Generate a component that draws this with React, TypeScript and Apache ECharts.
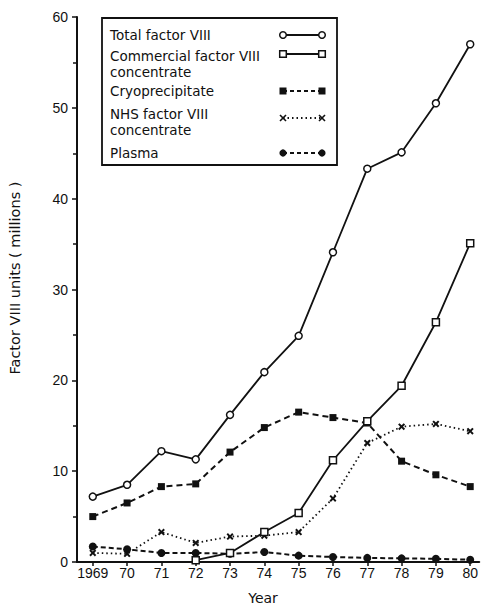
import React, { useEffect, useRef } from "react";
import * as echarts from "echarts";

const years = [1969, 1970, 1971, 1972, 1973, 1974, 1975, 1976, 1977, 1978, 1979, 1980];
const totalFactor = [7.2, 8.5, 12.2, 11.3, 16.2, 20.9, 24.9, 34.1, 43.3, 45.1, 50.5, 57.0];
const commercial = [null, null, null, 0.2, 1.0, 3.3, 5.4, 11.2, 15.5, 19.4, 26.4, 35.1];
const cryo = [5.0, 6.5, 8.3, 8.6, 12.1, 14.8, 16.5, 15.9, 15.3, 11.1, 9.6, 8.3];
const nhs = [1.0, 0.9, 3.3, 2.1, 2.8, 2.9, 3.3, 7.0, 13.1, 14.9, 15.2, 14.4];
const plasma = [1.7, 1.4, 1.0, 1.0, 0.9, 1.1, 0.7, 0.55, 0.45, 0.4, 0.35, 0.25];
const yTicks = [0, 10, 20, 30, 40, 50, 60];

const FONT = "Liberation Sans";
const TFONT = "DejaVu Sans";
const INK = "#111";
const XPATH = "path://M0,2L2,0L5,3L8,0L10,2L7,5L10,8L8,10L5,7L2,10L0,8L3,5Z";

function pairs(vals: (number | null)[]) {
  return years.map((y, i) => [y, vals[i]]).filter((p) => p[1] !== null);
}

export default function App() {
  const ref = useRef<HTMLDivElement>(null);
  useEffect(() => {
    if (!ref.current) return;
    const chart = echarts.init(ref.current, undefined, { renderer: "svg" });
    const lx1 = 283, lx2 = 322;
    const legendLine = (y: number, dash: any, w = 1.8) => ({
      type: "line",
      shape: { x1: lx1, y1: y, x2: lx2, y2: y },
      style: { stroke: INK, lineWidth: w, lineDash: dash },
    });
    const txt = (x: number, y: number, t: string) => ({
      type: "text",
      x,
      y,
      style: {
        text: t,
        font: `13.5px '${TFONT}'`,
        fill: INK,
        verticalAlign: "middle",
        lineHeight: 16,
      },
    });
    const openCircle = (x: number, y: number) => ({
      type: "circle",
      shape: { cx: x, cy: y, r: 3.3 },
      style: { fill: "#fff", stroke: INK, lineWidth: 1.5 },
    });
    const openSquare = (x: number, y: number) => ({
      type: "rect",
      shape: { x: x - 3.3, y: y - 3.3, width: 6.6, height: 6.6 },
      style: { fill: "#fff", stroke: INK, lineWidth: 1.5 },
    });
    const fillSquare = (x: number, y: number) => ({
      type: "rect",
      shape: { x: x - 3.5, y: y - 3.5, width: 7, height: 7 },
      style: { fill: INK },
    });
    const fillCircle = (x: number, y: number) => ({
      type: "circle",
      shape: { cx: x, cy: y, r: 3.6 },
      style: { fill: INK },
    });
    const crossA = (x: number, y: number) => ({
      type: "line",
      shape: { x1: x - 3, y1: y - 3, x2: x + 3, y2: y + 3 },
      style: { stroke: INK, lineWidth: 1.6 },
    });
    const crossB = (x: number, y: number) => ({
      type: "line",
      shape: { x1: x + 3, y1: y - 3, x2: x - 3, y2: y + 3 },
      style: { stroke: INK, lineWidth: 1.6 },
    });

    chart.setOption({
      animation: false,
      backgroundColor: "#fff",
      textStyle: { fontFamily: FONT, color: INK },
      grid: { left: 77, right: 0, top: 17, bottom: 44, containLabel: false },
      xAxis: {
        type: "value",
        min: 1968.54,
        max: 1980.26,
        splitLine: { show: false },
        axisLine: { show: true, lineStyle: { color: INK, width: 2.2 } },
        axisTick: { show: true, customValues: years, length: 4, lineStyle: { color: INK, width: 1.5 } },
        axisLabel: {
          customValues: years,
          margin: 4,
          fontSize: 14,
          fontFamily: FONT,
          color: INK,
          formatter: (v: number) => (v === 1969 ? "1969" : String(v).slice(2)),
        },
      },
      yAxis: {
        type: "value",
        min: 0,
        max: 60,
        interval: 10,
        splitLine: { show: false },
        axisLine: { show: true, lineStyle: { color: INK, width: 2 } },
        axisTick: { show: true, length: 5, lineStyle: { color: INK, width: 1.5 } },
        minorTick: { show: true, splitNumber: 2, length: 4, lineStyle: { color: INK, width: 1.5 } },
        axisLabel: {
          margin: 9,
          fontSize: 14,
          fontFamily: FONT,
          color: INK,
          customValues: yTicks,
        },
      },
      series: [
        {
          name: "Total factor VIII",
          type: "line",
          data: pairs(totalFactor),
          symbol: "circle",
          symbolSize: 7,
          lineStyle: { color: INK, width: 1.8 },
          itemStyle: { color: "#fff", borderColor: INK, borderWidth: 1.5 },
          z: 5,
        },
        {
          name: "Commercial factor VIII concentrate",
          type: "line",
          data: pairs(commercial),
          symbol: "rect",
          symbolSize: 7,
          lineStyle: { color: INK, width: 1.8 },
          itemStyle: { color: "#fff", borderColor: INK, borderWidth: 1.5 },
          z: 5,
        },
        {
          name: "Cryoprecipitate",
          type: "line",
          data: pairs(cryo),
          symbol: "rect",
          symbolSize: 7,
          lineStyle: { color: INK, width: 2, type: [6, 4] },
          itemStyle: { color: INK },
          z: 4,
        },
        {
          name: "NHS factor VIII concentrate",
          type: "line",
          data: pairs(nhs),
          symbol: XPATH,
          symbolSize: 7,
          lineStyle: { color: INK, width: 1.8, type: [1.5, 3] },
          itemStyle: { color: INK },
          z: 4,
        },
        {
          name: "Plasma",
          type: "line",
          data: pairs(plasma),
          symbol: "circle",
          symbolSize: 8,
          lineStyle: { color: INK, width: 2, type: [5, 3] },
          itemStyle: { color: INK },
          z: 3,
        },
      ],
      graphic: [
        {
          type: "group",
          z: 20,
          children: [
            {
              type: "rect",
              shape: { x: 102, y: 18, width: 235, height: 147 },
              style: { fill: "#fff", stroke: INK, lineWidth: 1.8 },
            },
            txt(110, 35, "Total factor VIII"),
            txt(110, 64, "Commercial factor VIII\nconcentrate"),
            txt(110, 91, "Cryoprecipitate"),
            txt(110, 121.5, "NHS factor VIII\nconcentrate"),
            txt(110, 153, "Plasma"),
            legendLine(35, null),
            openCircle(lx1, 35),
            openCircle(lx2, 35),
            legendLine(54, null),
            openSquare(lx1, 54),
            openSquare(lx2, 54),
            legendLine(91, [4, 3]),
            fillSquare(lx1, 91),
            fillSquare(lx2, 91),
            legendLine(118, [1.5, 3]),
            crossA(lx1, 118),
            crossB(lx1, 118),
            crossA(lx2, 118),
            crossB(lx2, 118),
            legendLine(153, [4, 3]),
            fillCircle(lx1, 153),
            fillCircle(lx2, 153),
          ],
        },
        {
          type: "text",
          x: 15,
          y: 278,
          rotation: Math.PI / 2,
          style: {
            text: "Factor VIII units ( millions )",
            font: `14.5px '${TFONT}'`,
            fill: INK,
            align: "center",
            verticalAlign: "middle",
          },
        },
        {
          type: "text",
          x: 263,
          y: 591,
          style: { text: "Year", font: `14px '${TFONT}'`, fill: INK, align: "center", verticalAlign: "top" },
        },
      ],
    });
    return () => chart.dispose();
  }, []);
  return (
    <div
      ref={ref}
      style={{ position: "fixed", left: 0, top: 0, width: 481, height: 606, background: "#fff" }}
    />
  );
}
